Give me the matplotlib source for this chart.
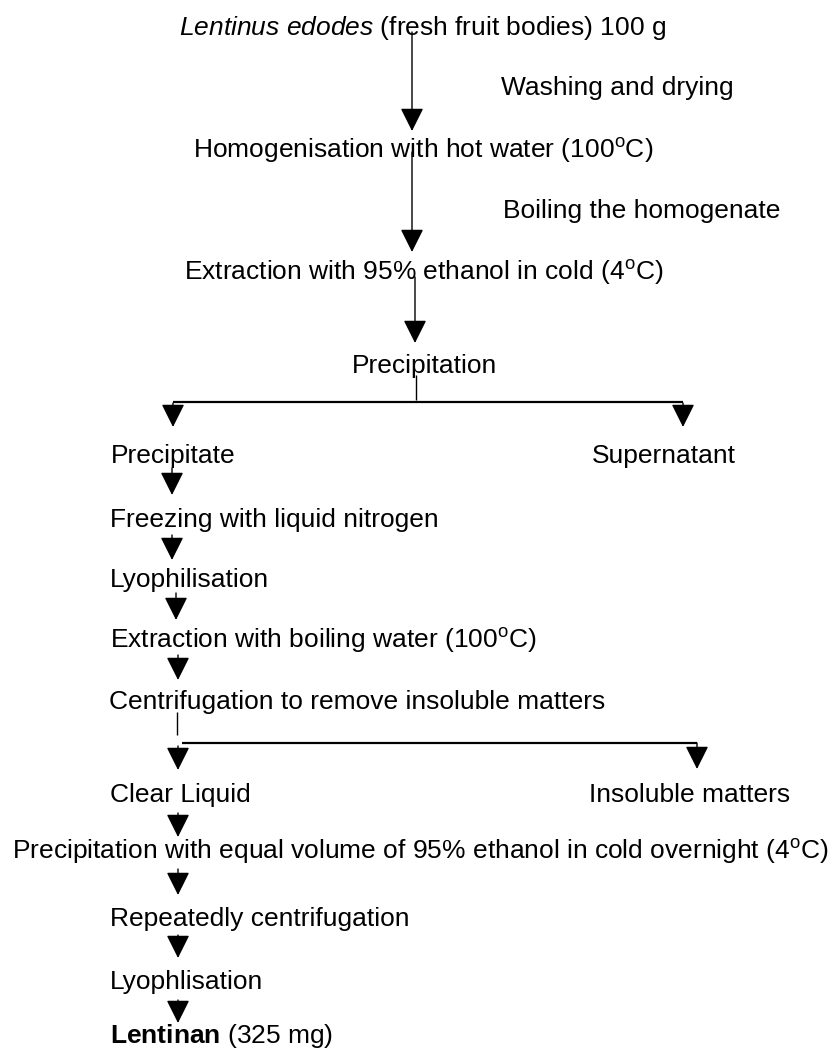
import matplotlib
matplotlib.use("Agg")
from matplotlib import pyplot as plt

plt.rcParams['font.family'] = ['Liberation Sans', 'DejaVu Sans']
plt.rcParams['mathtext.fontset'] = 'custom'
plt.rcParams['mathtext.rm'] = 'Liberation Sans'
plt.rcParams['mathtext.it'] = 'Liberation Sans:italic'
plt.rcParams['mathtext.bf'] = 'Liberation Sans:bold'

# flowchart steps (text only)
etichette = [
    r'$\mathit{Lentinus\ edodes}$ (fresh fruit bodies) 100 g',
    'Washing and drying',
    r'Homogenisation with hot water (100$^{\mathrm{o}}$C)',
    'Boiling the homogenate',
    r'Extraction with 95% ethanol in cold (4$^{\mathrm{o}}$C)',
    'Precipitation',
    'Precipitate',
    'Supernatant',
    'Freezing with liquid nitrogen',
    'Lyophilisation',
    r'Extraction with boiling water (100$^{\mathrm{o}}$C)',
    'Centrifugation to remove insoluble matters',
    'Clear Liquid',
    'Insoluble matters',
    r'Precipitation with equal volume of 95% ethanol in cold overnight (4$^{\mathrm{o}}$C)',
    'Repeatedly centrifugation',
    'Lyophlisation',
    r'$\mathbf{Lentinan}$ (325 mg)',
]

# layout in pixel (x sinistra, baseline)
pos_x = [179, 501, 193, 503, 184, 352, 111, 592, 110, 110, 110, 109, 110, 589, 12, 110, 110, 110]
pos_y = [35, 95, 158, 218, 280, 373, 463, 463, 527, 587, 648, 709, 802, 802, 859, 926, 989, 1043]

# frecce: x, inizio, punta
frecce = [
    (412, 32, 131),
    (412, 152, 252),
    (415, 277, 343),
    (173, 403, 427),
    (683, 403, 427),
    (172, 468, 495),
    (172, 535, 560),
    (176, 593, 620),
    (178, 655, 680),
    (178, 746, 770),
    (697, 743, 769),
    (178, 813, 837),
    (178, 869, 895),
    (178, 935, 958),
    (178, 1000, 1023),
]

# linee di diramazione
linee = [
    ([416, 416], [375, 400], 1.0),
    ([173, 683], [402, 402], 1.6),
    ([177, 177], [712, 735], 1.0),
    ([182, 697], [743, 743], 1.6),
]

fig = plt.figure(figsize=(8.37, 10.5), dpi=100)
ax = fig.add_axes([0, 0, 1, 1])
ax.set_xlim(0, 837)
ax.set_ylim(1050, 0)
ax.axis('off')

for i in range(len(etichette)):
    ax.text(pos_x[i], pos_y[i], etichette[i], fontsize=19, ha='left', va='baseline', color='black')

for x, y0, y1 in frecce:
    ax.annotate('', xy=(x, y1), xytext=(x, y0),
                arrowprops=dict(arrowstyle='-|>,head_length=0.4,head_width=0.2', mutation_scale=36,
                                lw=1.0, color='black', shrinkA=0, shrinkB=0))

for xs, ys, w in linee:
    ax.plot(xs, ys, color='black', lw=w, solid_capstyle='butt')

plt.savefig('out.png', dpi=100)
